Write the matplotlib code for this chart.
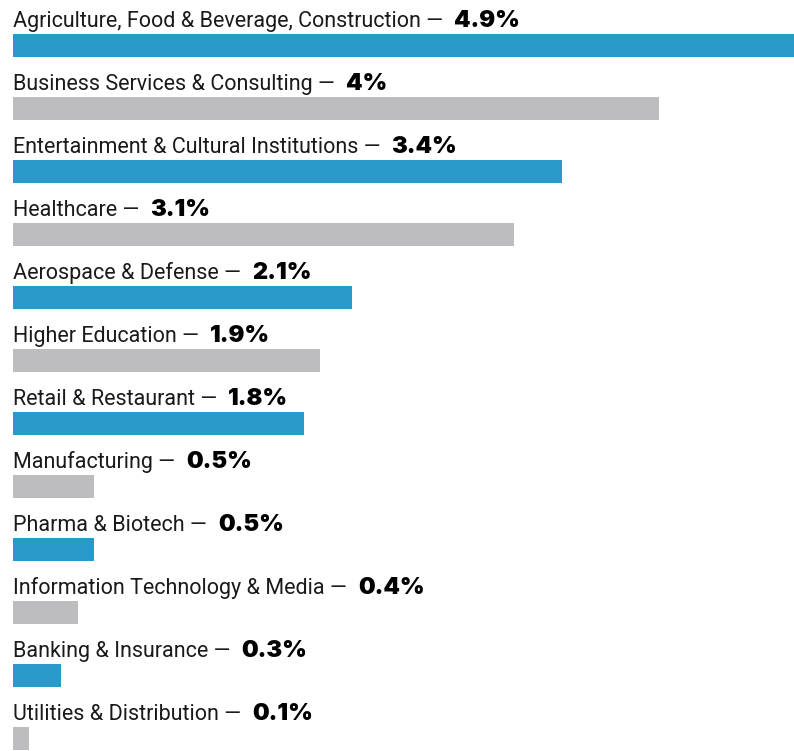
import matplotlib
import matplotlib.pyplot as plt

matplotlib.use('Agg')

categories = [
    "Agriculture, Food & Beverage, Construction",
    "Business Services & Consulting",
    "Entertainment & Cultural Institutions",
    "Healthcare",
    "Aerospace & Defense",
    "Higher Education",
    "Retail & Restaurant",
    "Manufacturing",
    "Pharma & Biotech",
    "Information Technology & Media",
    "Banking & Insurance",
    "Utilities & Distribution",
]
values = [4.9, 4.0, 3.4, 3.1, 2.1, 1.9, 1.8, 0.5, 0.5, 0.4, 0.3, 0.1]
value_labels = ["4.9%", "4%", "3.4%", "3.1%", "2.1%", "1.9%", "1.8%",
                "0.5%", "0.5%", "0.4%", "0.3%", "0.1%"]

blue = "#2899c9"
gray = "#bdbdbf"
colors = [blue if i % 2 == 0 else gray for i in range(len(values))]

fig = plt.figure(figsize=(7.94, 7.51), dpi=100)
ax = fig.add_axes([0, 0, 1, 1])

# pixel based layout: 161.5 px per percent, 63 px per row
px_per_pct = 161.5
row_px = 63.0
ax.set_xlim(-13 / px_per_pct, 781 / px_per_pct)
ax.set_ylim((751 - 45.5) / row_px, -45.5 / row_px)

rows = list(range(len(values)))
ax.barh(rows, values, height=23 / row_px, color=colors, left=0)

for i, (cat, lab) in enumerate(zip(categories, value_labels)):
    t = ax.text(0, i - 18.5 / row_px, f"{cat} —", fontsize=15.5, family="Roboto",
                color="#1a1a1a", va="baseline", ha="left")
    ax.annotate(lab, xy=(1, i - 18.5 / row_px), xycoords=(t, "data"),
                xytext=(8, 0), textcoords="offset points",
                fontsize=17, family="Inter", fontweight="black",
                color="#000000", va="baseline", ha="left")

ax.axis("off")
fig.savefig("out.png", dpi=100)
